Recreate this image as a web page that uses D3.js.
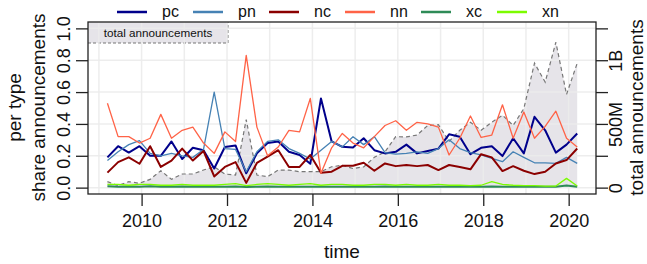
<!DOCTYPE html>
<html>
<head>
<meta charset="utf-8">
<script src="https://cdn.jsdelivr.net/npm/d3@7"></script>
<style>
body { margin: 0; background: #fff; }
text { font-family: "Liberation Sans", Arial, sans-serif; fill: #111; }
</style>
</head>
<body>
<div id="chart"></div>
<script>

// quarterly time points
var time = [2009.2, 2009.45, 2009.7, 2009.95, 2010.2, 2010.45, 2010.7, 2010.95,
    2011.2, 2011.45, 2011.7, 2011.95, 2012.2, 2012.45, 2012.7, 2012.95,
    2013.2, 2013.45, 2013.7, 2013.95, 2014.2, 2014.45, 2014.7, 2014.95,
    2015.2, 2015.45, 2015.7, 2015.95, 2016.2, 2016.45, 2016.7, 2016.95,
    2017.2, 2017.45, 2017.7, 2017.95, 2018.2, 2018.45, 2018.7, 2018.95,
    2019.2, 2019.45, 2019.7, 2019.95, 2020.2];

// shares per type
var pc = [0.19, 0.26, 0.22, 0.26, 0.20, 0.20, 0.29, 0.18, 0.25, 0.235, 0.12,
    0.255, 0.265, 0.09, 0.215, 0.28, 0.29, 0.225, 0.205, 0.15, 0.56, 0.29,
    0.256, 0.252, 0.31, 0.235, 0.215, 0.225, 0.27, 0.215, 0.23, 0.245, 0.335, 0.32,
    0.21, 0.25, 0.26, 0.198, 0.31, 0.215, 0.445, 0.36, 0.22, 0.27, 0.34];
var pn = [0.17, 0.225, 0.27, 0.295, 0.215, 0.20, 0.215, 0.20, 0.19, 0.24, 0.60,
    0.245, 0.24, 0.10, 0.225, 0.29, 0.30, 0.245, 0.215, 0.18, 0.235, 0.29,
    0.256, 0.32, 0.27, 0.32, 0.22, 0.21, 0.215, 0.225, 0.215, 0.245, 0.30, 0.245,
    0.22, 0.205, 0.183, 0.163, 0.225, 0.19, 0.156, 0.156, 0.152, 0.19, 0.152];
var nc = [0.094, 0.16, 0.19, 0.15, 0.26, 0.13, 0.17, 0.245, 0.17, 0.23, 0.07,
    0.13, 0.16, 0.03, 0.155, 0.195, 0.235, 0.13, 0.13, 0.205, 0.094, 0.10,
    0.137, 0.137, 0.156, 0.106, 0.152, 0.135, 0.142, 0.135, 0.142, 0.11, 0.142, 0.13,
    0.115, 0.21, 0.19, 0.104, 0.135, 0.106, 0.085, 0.10, 0.152, 0.173, 0.246];
var nn = [0.53, 0.32, 0.32, 0.28, 0.31, 0.46, 0.31, 0.36, 0.38, 0.28, 0.215,
    0.35, 0.29, 0.83, 0.38, 0.20, 0.255, 0.36, 0.35, 0.56, 0.09, 0.25,
    0.34, 0.28, 0.25, 0.32, 0.39, 0.42, 0.36, 0.41, 0.40, 0.38, 0.205, 0.31,
    0.45, 0.315, 0.33, 0.52, 0.31, 0.475, 0.31, 0.385, 0.48, 0.31, 0.255];
var xc = [0.008, 0.006, 0.007, 0.006, 0.008, 0.006, 0.005, 0.007, 0.006, 0.006, 0.005,
    0.006, 0.007, 0.004, 0.006, 0.007, 0.006, 0.005, 0.006, 0.006, 0.005, 0.006,
    0.006, 0.005, 0.006, 0.006, 0.007, 0.005, 0.006, 0.005, 0.006, 0.006, 0.005, 0.006,
    0.005, 0.005, 0.007, 0.006, 0.005, 0.005, 0.006, 0.005, 0.006, 0.014, 0.006];
var xn = [0.02, 0.02, 0.015, 0.02, 0.02, 0.015, 0.015, 0.02, 0.015, 0.015, 0.015,
    0.02, 0.025, 0.012, 0.02, 0.025, 0.02, 0.015, 0.02, 0.025, 0.015, 0.02,
    0.02, 0.015, 0.015, 0.02, 0.02, 0.015, 0.02, 0.015, 0.015, 0.02, 0.015, 0.015,
    0.012, 0.015, 0.038, 0.02, 0.015, 0.012, 0.012, 0.01, 0.01, 0.058, 0.01];

// total announcements, millions
var totalM = [47, 16, 47, 34, 65, 133, 65, 107, 107, 138, 164,
    107, 99, 534, 99, 86, 138, 138, 125, 125, 125, 164,
    175, 150, 163, 238, 281, 400, 398, 413, 488, 494, 363, 450,
    513, 450, 513, 568, 488, 620, 977, 828, 1141, 732, 977];

var xTicks = [2010, 2012, 2014, 2016, 2018, 2020];
var gridYears = [2009, 2010, 2011, 2012, 2013, 2014, 2015, 2016, 2017, 2018, 2019, 2020];
var yTicks = [0, 0.2, 0.4, 0.6, 0.8, 1.0];
var rightTicks = [0, 250, 500, 750, 1000, 1250];
var rightLabels = { 0: "0", 500: "500M", 1000: "1B" };

var series = [
    { name: "pc", values: pc, color: "#00008b", lw: 2 },
    { name: "pn", values: pn, color: "#4682b4", lw: 1.3 },
    { name: "nc", values: nc, color: "#8b0000", lw: 2 },
    { name: "nn", values: nn, color: "#ff6347", lw: 1.3 },
    { name: "xc", values: xc, color: "#2e8b57", lw: 2 },
    { name: "xn", values: xn, color: "#7cfc00", lw: 1.3 }
];

var width = 647, height = 264;
var plotL = 88, plotR = 596, plotT = 22, plotB = 194;

var svg = d3.select("#chart")
    .append("svg")
    .attr("width", width)
    .attr("height", height);

var x = d3.scaleLinear().domain([2008.745, 2020.64]).range([plotL, plotR]);
var y = d3.scaleLinear().domain([-0.04, 1.04]).range([plotB, plotT]);
var yR = d3.scaleLinear().domain([-50, 1300]).range([plotB, plotT]);

// total announcements area
svg.append("path")
    .datum(totalM)
    .attr("fill", "#e6e4e9")
    .attr("d", d3.area()
        .x(function (d, i) { return x(time[i]); })
        .y0(yR(0))
        .y1(function (d) { return yR(d); }));

// label box
svg.append("rect")
    .attr("x", plotL).attr("y", plotT)
    .attr("width", 140).attr("height", 21)
    .attr("fill", "#e6e4e9");
svg.append("path")
    .attr("d", "M" + plotL + "," + (plotT + 21) + "H" + (plotL + 140) + "V" + plotT)
    .attr("fill", "none")
    .attr("stroke", "#777")
    .attr("stroke-dasharray", "3,2");

// grid
svg.append("g")
    .selectAll("line")
    .data(gridYears)
    .enter()
    .append("line")
    .attr("x1", function (d) { return x(d); })
    .attr("x2", function (d) { return x(d); })
    .attr("y1", plotT).attr("y2", plotB)
    .attr("stroke", "#ebebeb")
    .attr("stroke-opacity", 0.9)
    .attr("stroke-width", 1.5);
svg.append("g")
    .selectAll("line")
    .data(yTicks)
    .enter()
    .append("line")
    .attr("x1", plotL).attr("x2", plotR)
    .attr("y1", function (d) { return y(d); })
    .attr("y2", function (d) { return y(d); })
    .attr("stroke", "#ebebeb")
    .attr("stroke-opacity", 0.9)
    .attr("stroke-width", 1.5);

svg.append("text")
    .attr("x", plotL + 70).attr("y", plotT + 15)
    .attr("text-anchor", "middle")
    .style("font-size", "11.7px")
    .text("total announcements");

// total dashed line
svg.append("path")
    .datum(totalM)
    .attr("fill", "none")
    .attr("stroke", "#777")
    .attr("stroke-width", 1.2)
    .attr("stroke-dasharray", "4,3")
    .attr("d", d3.line()
        .x(function (d, i) { return x(time[i]); })
        .y(function (d) { return yR(d); }));

// share lines
svg.append("g")
    .selectAll("path")
    .data(series)
    .enter()
    .append("path")
    .attr("fill", "none")
    .attr("stroke", function (d) { return d.color; })
    .attr("stroke-width", function (d) { return d.lw; })
    .attr("stroke-linejoin", "round")
    .attr("d", function (s) {
        return d3.line()
            .x(function (d, i) { return x(time[i]); })
            .y(function (d) { return y(d); })(s.values);
    });

// box
svg.append("rect")
    .attr("x", plotL).attr("y", plotT)
    .attr("width", plotR - plotL).attr("height", plotB - plotT)
    .attr("fill", "none")
    .attr("stroke", "#222")
    .attr("stroke-width", 1.3);

// axes
var gx = svg.append("g")
    .attr("transform", "translate(0," + plotB + ")")
    .call(d3.axisBottom(x).tickValues(xTicks).tickSize(12).tickSizeOuter(0).tickFormat(d3.format("d")));
gx.select(".domain").remove();
gx.selectAll("line").attr("stroke", "#222").attr("stroke-width", 1.3);
gx.selectAll("text").attr("y", 20).style("font-size", "18px").attr("fill", "#111");

var gy = svg.append("g")
    .attr("transform", "translate(" + plotL + ",0)")
    .call(d3.axisLeft(y).tickValues(yTicks).tickSize(12).tickSizeOuter(0).tickFormat(d3.format(".1f")));
gy.select(".domain").remove();
gy.selectAll("line").attr("stroke", "#222").attr("stroke-width", 1.3);
gy.selectAll("text")
    .attr("x", 0).attr("dy", null)
    .attr("text-anchor", "middle")
    .attr("transform", "translate(-18,0) rotate(-90)")
    .style("font-size", "18px").attr("fill", "#111");

var gr = svg.append("g")
    .attr("transform", "translate(" + plotR + ",0)")
    .call(d3.axisRight(yR).tickValues(rightTicks).tickSize(12).tickSizeOuter(0)
        .tickFormat(function (d) { return rightLabels[d] || ""; }));
gr.select(".domain").remove();
gr.selectAll("line").attr("stroke", "#222").attr("stroke-width", 1.3);
gr.selectAll("text")
    .attr("x", 0).attr("dy", null)
    .attr("text-anchor", "middle")
    .attr("transform", "translate(26,0) rotate(-90)")
    .style("font-size", "18px").attr("fill", "#111");

svg.selectAll("g.tick text").attr("font-family", null);

// titles
svg.append("text")
    .attr("transform", "translate(21,107.5) rotate(-90)")
    .attr("text-anchor", "middle")
    .style("font-size", "19px")
    .text("per type");
svg.append("text")
    .attr("transform", "translate(45,107.5) rotate(-90)")
    .attr("text-anchor", "middle")
    .style("font-size", "19px")
    .text("share announcements");
svg.append("text")
    .attr("transform", "translate(643,107.5) rotate(-90)")
    .attr("text-anchor", "middle")
    .style("font-size", "19px")
    .text("total announcements");
svg.append("text")
    .attr("x", 342).attr("y", 258)
    .attr("text-anchor", "middle")
    .style("font-size", "19px")
    .text("time");

// legend
var leg = svg.append("g")
    .selectAll("g")
    .data(series)
    .enter()
    .append("g")
    .attr("transform", function (d, i) { return "translate(" + (117 + i * 76) + ",12)"; });
leg.append("line")
    .attr("x1", 0).attr("x2", 30)
    .attr("stroke", function (d) { return d.color; })
    .attr("stroke-width", 2.5);
leg.append("text")
    .attr("x", 45).attr("y", 5)
    .style("font-size", "16px")
    .text(function (d) { return d.name; });

</script>
</body>
</html>
